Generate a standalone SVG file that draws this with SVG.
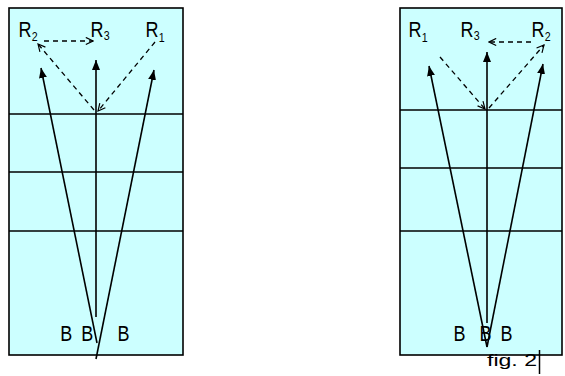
<svg xmlns="http://www.w3.org/2000/svg" width="565" height="376" viewBox="0 0 565 376">
<style>
.box{fill:#ccffff;stroke:#000;stroke-width:1.6}
.grid{stroke:#000;stroke-width:1.6;fill:none}
.sol{stroke:#000;stroke-width:1.6;fill:none;marker-end:url(#ah)}
.dsh{stroke:#000;stroke-width:1.3;fill:none;stroke-dasharray:5 4;marker-end:url(#oh)}
.lb{font-family:"Liberation Sans",Arial,sans-serif;font-size:22px;fill:#000}
.sb{font-size:13px}
.fig{font-family:"Liberation Sans",Arial,sans-serif;font-size:17px;fill:#000}
</style>
<defs>
<marker id="ah" viewBox="0 0 10 8" refX="10" refY="4" markerWidth="10" markerHeight="8" markerUnits="userSpaceOnUse" orient="auto"><path d="M0,0 L10,4 L0,8 z" fill="#000"/></marker>
<marker id="oh" viewBox="0 0 10 10" refX="9" refY="5" markerWidth="9" markerHeight="9" markerUnits="userSpaceOnUse" orient="auto"><path d="M1,1 L9,5 L1,9" fill="none" stroke="#000" stroke-width="1.3"/></marker>
</defs>

<g id="boxLeft">
<rect class="box" x="9" y="8" width="174" height="347"/>
<line class="grid" x1="9" y1="114" x2="183" y2="114"/>
<line class="grid" x1="9" y1="172" x2="183" y2="172"/>
<line class="grid" x1="9" y1="231" x2="183" y2="231"/>
</g>
<g id="boxRight">
<rect class="box" x="400" y="8" width="162" height="347"/>
<line class="grid" x1="400" y1="110" x2="562" y2="110"/>
<line class="grid" x1="400" y1="168" x2="562" y2="168"/>
<line class="grid" x1="400" y1="231" x2="562" y2="231"/>
</g>

<g id="connectors">
<line class="sol" x1="96" y1="317" x2="96" y2="60"/>
<line class="sol" x1="97" y1="343" x2="41" y2="68"/>
<line class="sol" x1="96" y1="359" x2="154" y2="70"/>
<line class="dsh" x1="155" y1="42" x2="98" y2="111"/>
<line class="dsh" x1="94" y1="110" x2="38" y2="44"/>
<line class="dsh" x1="44" y1="41" x2="93" y2="41"/>

<line class="sol" x1="487" y1="323" x2="487" y2="52"/>
<line class="sol" x1="487" y1="347" x2="429" y2="66"/>
<line class="sol" x1="487" y1="347" x2="543" y2="64"/>
<line class="dsh" x1="440" y1="57" x2="485" y2="109"/>
<line class="dsh" x1="489" y1="108" x2="544" y2="45"/>
<line class="dsh" x1="531" y1="42" x2="489" y2="42"/>
</g>

<g id="labelsLeft">
<text class="lb" transform="translate(18.6 37) scale(0.82 1)">R<tspan class="sb" dy="4">2</tspan></text>
<text class="lb" transform="translate(90.6 37) scale(0.82 1)">R<tspan class="sb" dy="3">3</tspan></text>
<text class="lb" transform="translate(145.6 37) scale(0.82 1)">R<tspan class="sb" dy="5">1</tspan></text>
<text class="lb" transform="translate(60.3 341) scale(0.82 1)">B</text>
<text class="lb" transform="translate(81.3 341) scale(0.82 1)">B</text>
<text class="lb" transform="translate(117.6 341) scale(0.82 1)">B</text>
</g>
<g id="labelsRight">
<text class="lb" transform="translate(408.6 37) scale(0.82 1)">R<tspan class="sb" dy="5">1</tspan></text>
<text class="lb" transform="translate(460.6 37) scale(0.82 1)">R<tspan class="sb" dy="3">3</tspan></text>
<text class="lb" transform="translate(531.6 37) scale(0.82 1)">R<tspan class="sb" dy="4">2</tspan></text>
<text class="lb" transform="translate(453.6 341) scale(0.82 1)">B</text>
<text class="lb" transform="translate(479.6 341) scale(0.82 1)">B</text>
<text class="lb" transform="translate(500.6 341) scale(0.82 1)">B</text>
</g>

<g id="caption">
<text class="fig" x="487" y="366" textLength="50" lengthAdjust="spacingAndGlyphs">fig. 2</text>
<line x1="539.5" y1="350" x2="539.5" y2="374" stroke="#000" stroke-width="1.5"/>
</g>
</svg>
